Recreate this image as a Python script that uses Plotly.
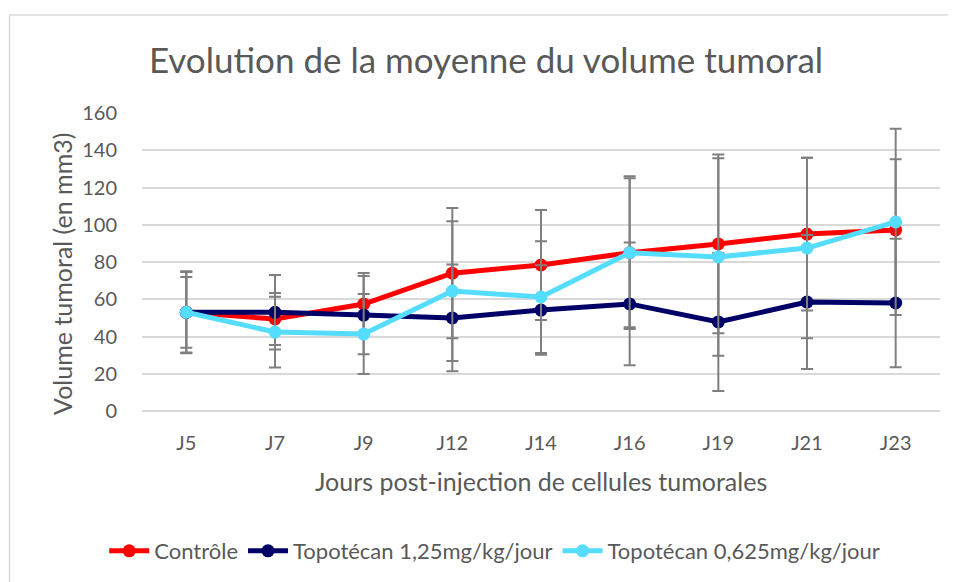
import plotly.graph_objects as go

jours = ["J5", "J7", "J9", "J12", "J14", "J16", "J19", "J21", "J23"]

controle = [53, 49.4, 57.4, 74, 78.4, 85, 89.7, 95, 97.2]
controle_err = [22, 14, 16.7, 35, 29.5, 41, 48, 41, 38]

topo_125 = [53, 53, 51.5, 50, 54.2, 57.5, 47.8, 58.5, 58]
topo_125_err = [19, 20, 21, 28.6, 24, 33, 37, 36, 34.5]

topo_0625 = [53, 42.4, 41.3, 64.4, 61.2, 85, 82.7, 87.5, 101.5]
topo_0625_err = [21.6, 19, 21.5, 37.5, 30, 40, 53, 48.5, 50]

gris = "#595959"
police = "Lato"

fig = go.Figure()

series = [
    ("Contrôle", controle, controle_err, "#ff0000"),
    ("Topotécan 1,25mg/kg/jour", topo_125, topo_125_err, "#000066"),
    ("Topotécan 0,625mg/kg/jour", topo_0625, topo_0625_err, "#55ddff"),
]

for nom, vals, errs, couleur in series:
    fig.add_trace(go.Scatter(
        x=jours,
        y=vals,
        name=nom,
        mode="lines+markers",
        line=dict(color=couleur, width=5),
        marker=dict(color=couleur, size=13),
        error_y=dict(type="data", array=errs, visible=True,
                     color="#7f7f7f", thickness=2, width=6),
    ))

# la page ajoute 8px de marge : on decale tout de -8px
fig.update_layout(
    width=956,
    height=582,
    margin=dict(l=134, r=24, t=105, b=179),
    paper_bgcolor="white",
    plot_bgcolor="white",
    font=dict(family=police, color=gris),
    title=dict(
        text="Evolution de la moyenne du volume tumoral",
        font=dict(size=35, color=gris, family=police),
        x=0.5, xanchor="center", y=0.91, yanchor="middle",
    ),
    xaxis=dict(
        type="category",
        range=[-0.5, 8.5],
        showgrid=False,
        showline=False,
        ticks="outside",
        ticklen=14,
        tickcolor="rgba(0,0,0,0)",
        tickfont=dict(size=20, color=gris),
    ),
    yaxis=dict(
        range=[0, 160],
        dtick=20,
        showgrid=True,
        gridcolor="#d9d9d9",
        gridwidth=1.5,
        zeroline=True,
        zerolinecolor="#d9d9d9",
        zerolinewidth=1.5,
        showline=False,
        ticks="outside",
        ticklen=20,
        tickcolor="rgba(0,0,0,0)",
        tickfont=dict(size=20, color=gris),
    ),
    annotations=[
        dict(text="Jours post-injection de cellules tumorales",
             xref="paper", yref="paper", x=0.5, y=-0.235,
             xanchor="center", yanchor="middle", showarrow=False,
             font=dict(size=25, color=gris)),
        dict(text="Volume tumoral (en mm3)",
             xref="paper", yref="paper", x=-0.1003, y=0.46,
             xanchor="center", yanchor="middle", showarrow=False,
             textangle=-90, font=dict(size=25, color=gris)),
    ],
    legend=dict(
        orientation="h",
        x=0.442, xanchor="center",
        y=-0.47, yanchor="middle",
        font=dict(size=22, color=gris),
        itemwidth=40,
    ),
    shapes=[dict(
        type="rect", xref="paper", yref="paper",
        x0=-0.166, x1=1.05, y0=-0.7, y1=1.329,
        line=dict(color="#d9d9d9", width=1.5),
        layer="below",
    )],
)

fig.write_html("out.html")
